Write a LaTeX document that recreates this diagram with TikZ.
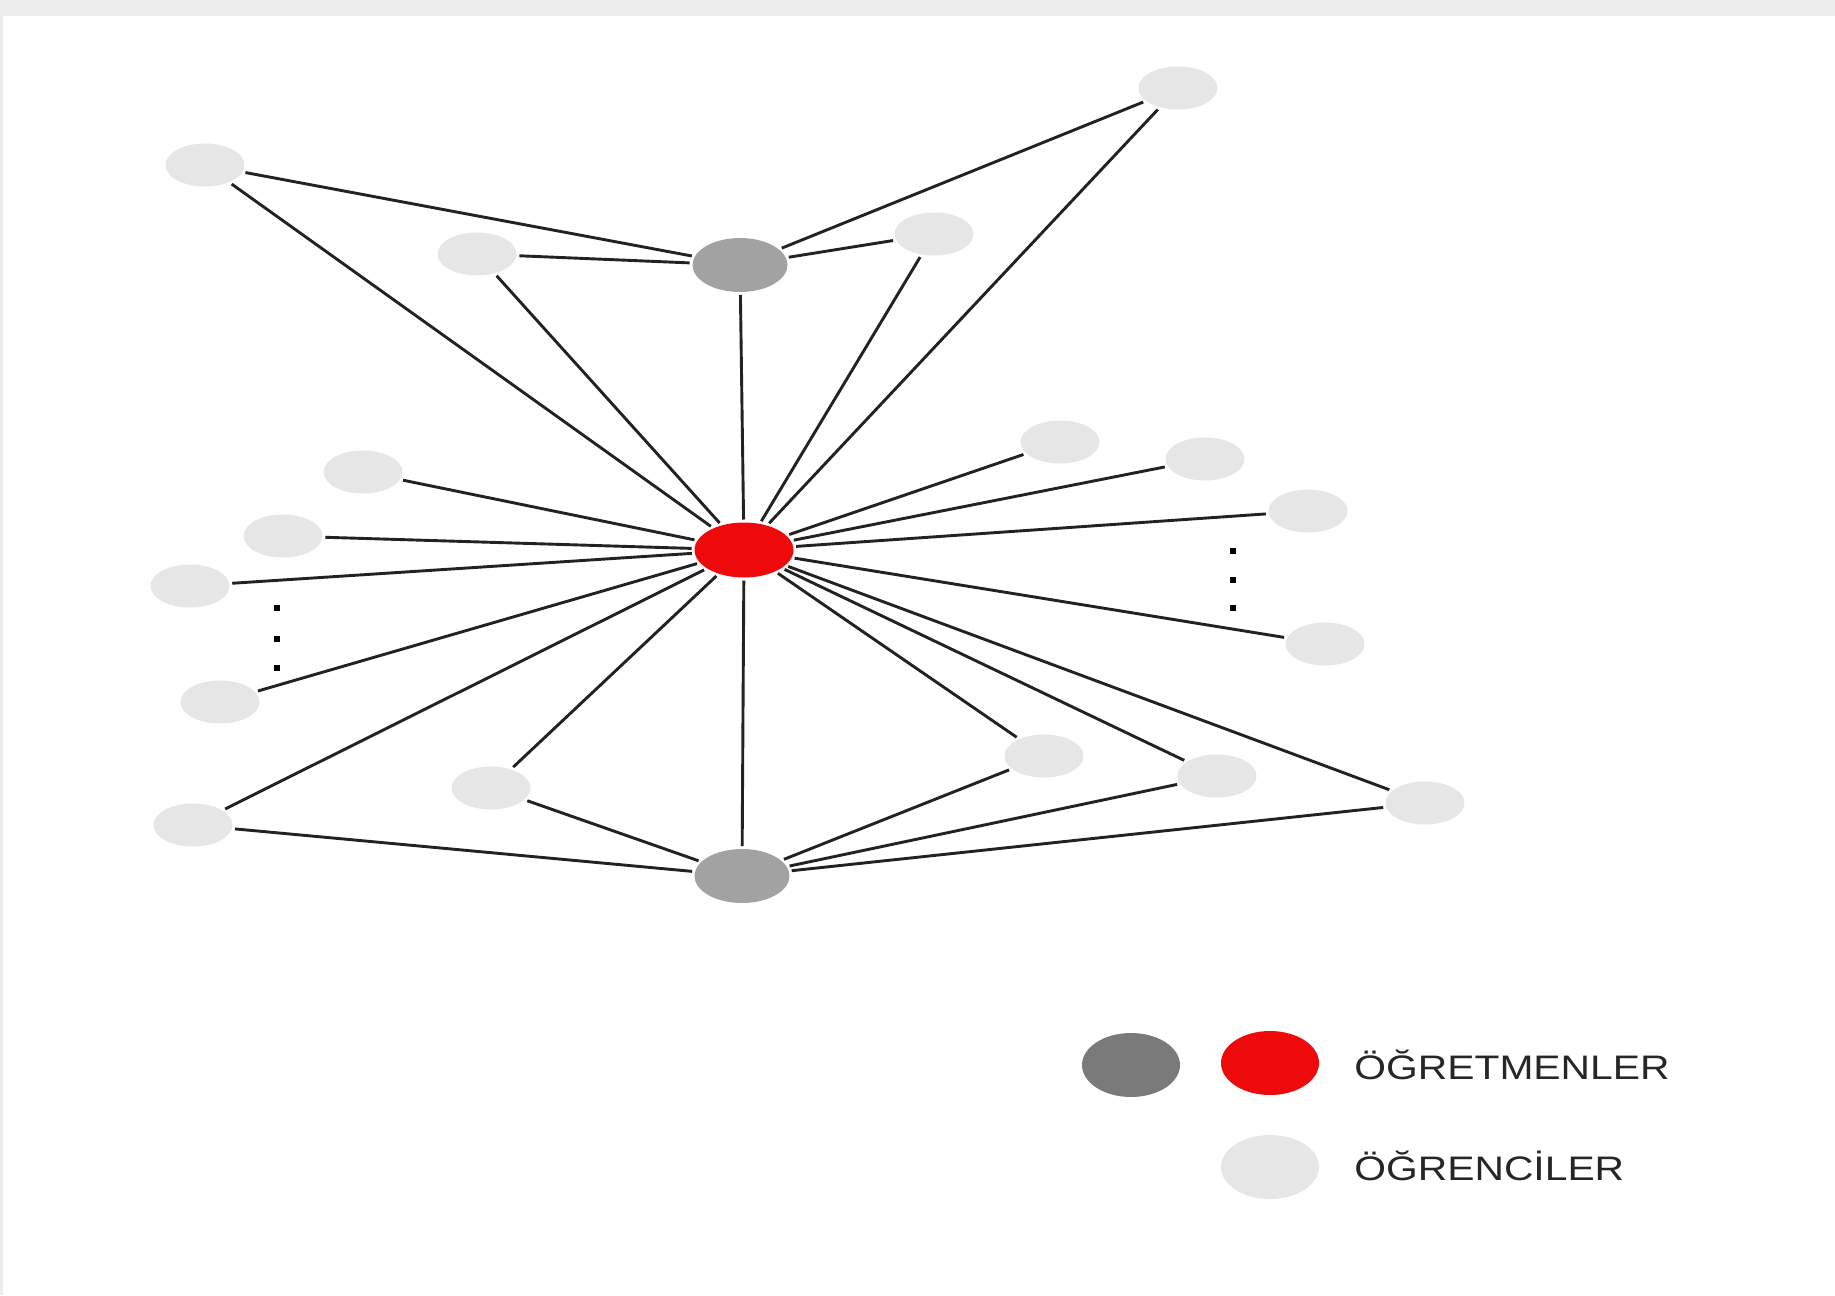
\documentclass[tikz,border=0pt]{standalone}
\usepackage{fontspec}
\setmainfont{Liberation Sans}
\usetikzlibrary{shapes.geometric}
\definecolor{stud}{HTML}{E6E6E6}
\definecolor{teach}{HTML}{A2A2A2}
\definecolor{teachdark}{HTML}{7A7A7A}
\definecolor{hub}{HTML}{EE0A0A}
\definecolor{edgecol}{HTML}{222222}
\definecolor{bandcol}{HTML}{EDEDED}
\tikzset{
  student/.style={ellipse, fill=stud, minimum width=39.5pt, minimum height=21.5pt, inner sep=0pt, outer sep=1.5pt},
  teacher/.style={ellipse, fill=teach, minimum width=47.5pt, minimum height=27pt, inner sep=0pt, outer sep=1.5pt},
  hubnode/.style={ellipse, fill=hub, minimum width=49.5pt, minimum height=27.5pt, inner sep=0pt, outer sep=1.5pt},
  legendball/.style={ellipse, minimum width=49pt, minimum height=32pt, inner sep=0pt},
  link/.style={draw=edgecol, line width=1.45pt},
  dotmark/.style={fill=black, inner sep=0pt, minimum size=3pt},
  legendtext/.style={anchor=base west, inner sep=0pt, text=black!85, font=\fontsize{17}{20}\selectfont}
}
\begin{document}
\begin{tikzpicture}[x=0.5pt, y=-0.5pt]
\useasboundingbox (0,0) rectangle (1835,1295);
\fill[white] (0,0) rectangle (1835,1295);
\fill[bandcol] (0,0) rectangle (1835,16);
\fill[bandcol] (0,16) rectangle (3,1295);

% hub and teachers
\node[hubnode] (hub) at (744,550) {};
\node[teacher] (ttop) at (740,265) {};
\node[teacher] (tbot) at (742,876) {};

% students
\node[student] (s1) at (205,165) {};
\node[student] (s2) at (477,254) {};
\node[student] (s3) at (934,234) {};
\node[student] (s4) at (1178,88) {};
\node[student] (s5) at (363,472) {};
\node[student] (s6) at (283,536) {};
\node[student] (s7) at (190,586) {};
\node[student] (s8) at (220,702) {};
\node[student] (s9) at (193,825) {};
\node[student] (s10) at (491,788) {};
\node[student] (s11) at (1060,442) {};
\node[student] (s12) at (1205,459) {};
\node[student] (s13) at (1308,511) {};
\node[student] (s14) at (1325,644) {};
\node[student] (s15) at (1044,756) {};
\node[student] (s16) at (1217,776) {};
\node[student] (s17) at (1425,803) {};

% dots
\node[dotmark] (dl1) at (277,608) {};
\node[dotmark] (dl2) at (277,639) {};
\node[dotmark] (dl3) at (277,668) {};
\node[dotmark] (dr1) at (1233,551) {};
\node[dotmark] (dr2) at (1233,580) {};
\node[dotmark] (dr3) at (1233,608) {};

% links to hub
\foreach \s in {ttop,tbot,s1,s2,s3,s4,s5,s6,s7,s8,s9,s10,s11,s12,s13,s14,s15,s16,s17}
  \draw[link] (\s) -- (hub);
% links to top teacher
\foreach \s in {s1,s2,s3,s4}
  \draw[link] (\s) -- (ttop);
% links to bottom teacher
\foreach \s in {s9,s10,s15,s16,s17}
  \draw[link] (\s) -- (tbot);

% legend
\node[legendball, fill=teachdark] (lg1) at (1131,1065) {};
\node[legendball, fill=hub] (lg2) at (1270,1063) {};
\node[legendball, fill=stud] (lg3) at (1270,1167) {};
\node[legendtext] (lt1) at (1354,1079) {\scalebox{1.2}[1]{ÖĞRETMENLER}};
\node[legendtext] (lt2) at (1354,1180) {\scalebox{1.2}[1]{ÖĞRENCİLER}};
\end{tikzpicture}
\end{document}
